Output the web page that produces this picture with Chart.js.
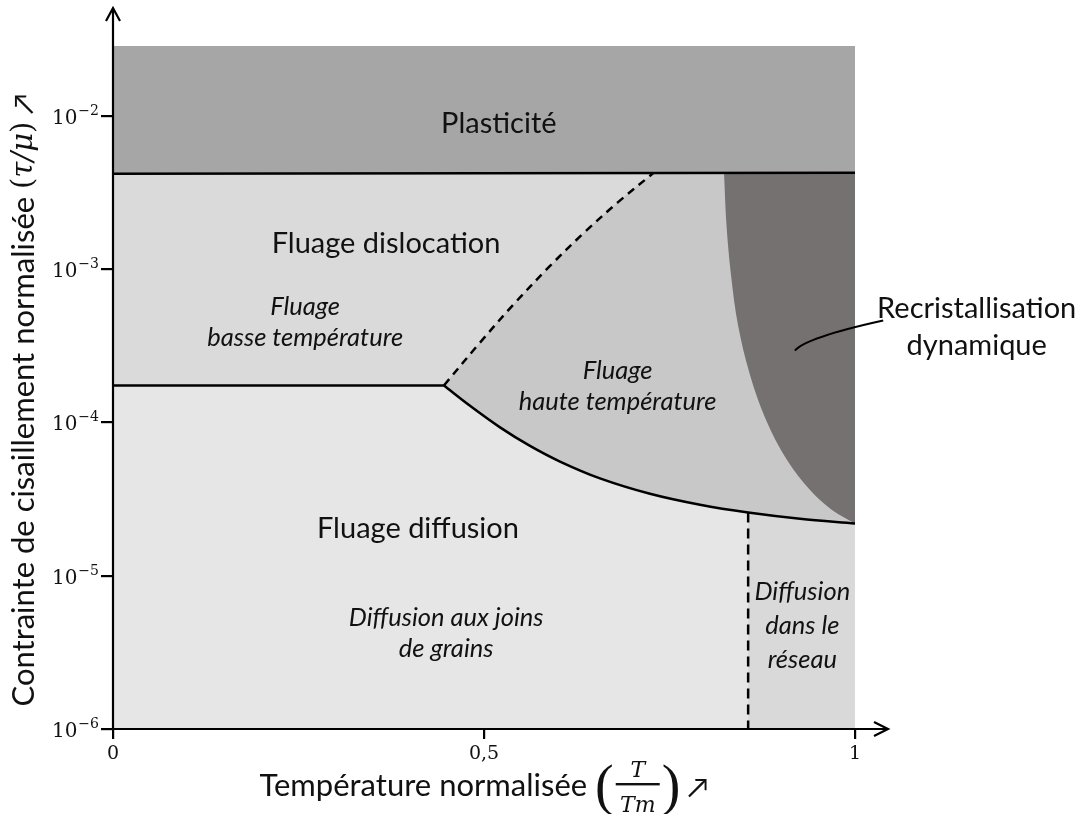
<!DOCTYPE html>
<html>
<head>
<meta charset="utf-8">
<script src="https://cdn.jsdelivr.net/npm/chart.js@4"></script>
<style>
  html, body { margin: 0; padding: 0; background: #fff; }
  #wrap { width: 1082px; height: 814px; }
</style>
</head>
<body>
<div id="wrap"><canvas id="map" width="1082" height="814"></canvas></div>
<script>
// ─── Axes ─────────────────────────────────────────────────────────────────────
const xTicks = [0, 0.5, 1];
const xTickLabels = ['0', '0,5', '1'];
const yTicks = [1e-6, 1e-5, 1e-4, 1e-3, 1e-2];
const yExponents = ['−6', '−5', '−4', '−3', '−2'];
const yMin = 1e-6;
const yMax = 2.85e-2;

// ─── Boundaries (T/Tm, τ/μ) ───────────────────────────────────────────────────
const plasticityX = [0, 1];
const plasticityY = [4.18e-3, 4.25e-3];

const lowTempX = [0, 0.446];
const lowTempY = [1.74e-4, 1.74e-4];

const dislocationX = [0.446, 0.4933, 0.5404, 0.5876, 0.6348, 0.6819, 0.7278];
const dislocationY = [1.74e-4, 3.26e-4, 5.92e-4, 1.032e-3, 1.726e-3, 2.765e-3, 4.21e-3];

const diffusionX = [0.446, 0.4811, 0.5216, 0.562, 0.6024, 0.6563, 0.7237, 0.7911, 0.856, 0.9259, 1];
const diffusionY = [1.74e-4, 1.283e-4, 9.28e-5, 7.02e-5, 5.55e-5, 4.31e-5, 3.42e-5, 2.9e-5, 2.58e-5, 2.35e-5, 2.19e-5];

const recrystX = [0.8235, 0.8268, 0.8329, 0.8423, 0.8585, 0.8801, 0.9084, 0.9394, 0.969, 1];
const recrystY = [4.22e-3, 1.94e-3, 9.15e-4, 4.32e-4, 2.04e-4, 1.037e-4, 5.68e-5, 3.62e-5, 2.68e-5, 2.19e-5];

const latticeX = 0.856;
const latticeY = [2.58e-5, 1e-6];

// ─── Region labels ────────────────────────────────────────────────────────────
const regionLabels = [
  { lines: ['Plasticité'], x: 0.52, y: 8.9e-3, italic: false },
  { lines: ['Fluage dislocation'], x: 0.368, y: 1.47e-3, italic: false },
  { lines: ['Fluage', 'basse température'], x: 0.259, y: 5.7e-4, italic: true },
  { lines: ['Fluage', 'haute température'], x: 0.68, y: 2.18e-4, italic: true },
  { lines: ['Fluage diffusion'], x: 0.411, y: 2.04e-5, italic: false },
  { lines: ['Diffusion aux joins', 'de grains'], x: 0.449, y: 5.28e-6, italic: true },
  { lines: ['Diffusion', 'dans le', 'réseau'], x: 0.929, y: 7.81e-6, italic: true, lead: 34 },
  { lines: ['Recristallisation', 'dynamique'], x: 1.164, y: 5.53e-4, italic: false, lead: 37 }
];
const leader = { from: [1.038, 4.62e-4], ctrl: [0.934, 3.58e-4], to: [0.919, 2.94e-4] };

// ─── Helpers ──────────────────────────────────────────────────────────────────
const pts = (xs, ys) => xs.map((x, i) => ({ x, y: ys[i] }));
const SMOOTH = 0.35;

function area(label, xs, ys, fill, color, order) {
  return {
    label, data: pts(xs, ys), fill, backgroundColor: color,
    borderWidth: 0, pointRadius: 0, tension: SMOOTH, order
  };
}

function edge(label, xs, ys, dash, curved, order) {
  return {
    label, data: pts(xs, ys), fill: false, borderColor: '#000', borderWidth: 2.5,
    borderDash: dash, pointRadius: 0, borderCapStyle: 'butt',
    tension: curved ? SMOOTH : 0, order
  };
}

const latticeCurveX = diffusionX.filter(x => x >= latticeX);
const latticeCurveY = diffusionY.filter((_, i) => diffusionX[i] >= latticeX);

const SANS = 'Lato, "Open Sans", sans-serif';
const SERIF = '"DejaVu Serif", serif';

// ─── Decorations: axes arrows, titles, labels ─────────────────────────────────
const decor = {
  id: 'decor',
  afterDraw(chart) {
    const { ctx, chartArea: a, scales: { x, y } } = chart;
    ctx.save();

    // region labels
    ctx.fillStyle = '#111';
    ctx.textAlign = 'center';
    ctx.textBaseline = 'middle';
    regionLabels.forEach(l => {
      ctx.font = l.italic ? 'italic 25.5px ' + SANS : '29px ' + SANS;
      const px = x.getPixelForValue(l.x);
      const py = y.getPixelForValue(l.y);
      const lead = l.lead || 31;
      l.lines.forEach((t, i) => ctx.fillText(t, px, py + i * lead));
    });

    // leader line
    ctx.strokeStyle = '#000';
    ctx.lineWidth = 2;
    ctx.beginPath();
    ctx.moveTo(x.getPixelForValue(leader.from[0]), y.getPixelForValue(leader.from[1]));
    ctx.quadraticCurveTo(x.getPixelForValue(leader.ctrl[0]), y.getPixelForValue(leader.ctrl[1]),
      x.getPixelForValue(leader.to[0]), y.getPixelForValue(leader.to[1]));
    ctx.stroke();

    // axes with arrow heads
    ctx.lineWidth = 2.2;
    const top = a.top - 38, right = a.right + 33;
    ctx.beginPath();
    ctx.moveTo(a.left, a.bottom); ctx.lineTo(a.left, top);
    ctx.moveTo(a.left - 7, top + 13); ctx.lineTo(a.left, top); ctx.lineTo(a.left + 7, top + 13);
    ctx.moveTo(a.left, a.bottom); ctx.lineTo(right, a.bottom);
    ctx.moveTo(right - 14, a.bottom - 7); ctx.lineTo(right, a.bottom); ctx.lineTo(right - 14, a.bottom + 7);
    ctx.stroke();

    // y tick labels 10^n
    ctx.textAlign = 'left';
    ctx.textBaseline = 'alphabetic';
    yTicks.forEach((v, i) => {
      const py = y.getPixelForValue(v);
      ctx.font = '14px ' + SERIF;
      const ew = ctx.measureText(yExponents[i]).width;
      ctx.font = '20px ' + SERIF;
      const bw = ctx.measureText('10').width;
      const x0 = a.left - 15 - ew - bw;
      ctx.fillText('10', x0, py + 8);
      ctx.font = '14px ' + SERIF;
      ctx.fillText(yExponents[i], x0 + bw + 1, py - 1);
    });

    // x title with fraction
    const cy = 786;
    ctx.textBaseline = 'middle';
    ctx.font = '31px ' + SANS;
    const t1 = 'Température normalisée ';
    const w1 = ctx.measureText(t1).width;
    ctx.font = '56px "Liberation Serif", serif';
    const wp = ctx.measureText('(').width;
    const wf = 44;
    ctx.font = '28px ' + SANS;
    const wa = ctx.measureText(' ↗').width;
    const total = w1 + wp * 2 + wf + 4 + wa;
    let cx = x.getPixelForValue(0.5) - total / 2;
    ctx.textAlign = 'left';
    ctx.font = '31px ' + SANS;
    ctx.fillText(t1, cx, cy);
    cx += w1;
    ctx.font = '56px "Liberation Serif", serif';
    ctx.fillText('(', cx, cy + 3);
    cx += wp + 2;
    ctx.textAlign = 'center';
    ctx.font = 'italic 22px ' + SERIF;
    ctx.fillText('T', cx + wf / 2, cy - 15);
    ctx.fillText('Tm', cx + wf / 2, cy + 20);
    ctx.fillRect(cx, cy - 3, wf, 2.4);
    cx += wf + 2;
    ctx.textAlign = 'left';
    ctx.font = '56px "Liberation Serif", serif';
    ctx.fillText(')', cx, cy + 3);
    cx += wp;
    ctx.font = '28px ' + SANS;
    ctx.fillText(' ↗', cx, cy + 2);

    // y title (rotated)
    ctx.translate(24, 400);
    ctx.rotate(-Math.PI / 2);
    ctx.font = '31px ' + SANS;
    const s1 = 'Contrainte de cisaillement normalisée ';
    const v1 = ctx.measureText(s1).width;
    ctx.font = '29px ' + SERIF;
    const vp = ctx.measureText('(').width;
    ctx.font = 'italic 29px ' + SERIF;
    const vm = ctx.measureText('τ/μ').width;
    ctx.font = '28px ' + SANS;
    const va = ctx.measureText(' ↗').width;
    let vx = -(v1 + vp * 2 + vm + va) / 2;
    ctx.textAlign = 'left';
    ctx.font = '31px ' + SANS;
    ctx.fillText(s1, vx, 0); vx += v1;
    ctx.font = '29px ' + SERIF;
    ctx.fillText('(', vx, 0); vx += vp;
    ctx.font = 'italic 29px ' + SERIF;
    ctx.fillText('τ/μ', vx, 0); vx += vm;
    ctx.font = '29px ' + SERIF;
    ctx.fillText(')', vx, 0); vx += vp;
    ctx.font = '28px ' + SANS;
    ctx.fillText(' ↗', vx, 0);

    ctx.restore();
  }
};

// ─── Chart ────────────────────────────────────────────────────────────────────
new Chart(document.getElementById('map'), {
  type: 'line',
  data: {
    datasets: [
      area('Fluage diffusion', plasticityX, plasticityY, 'start', '#e6e6e6', 20),
      area('Fluage haute température', diffusionX, diffusionY, 'end', '#c8c8c8', 19),
      area('Fluage basse température', lowTempX, lowTempY, 'end', '#dadada', 18),
      area('Fluage basse température (2)', dislocationX, dislocationY, 'end', '#dadada', 17),
      area('Recristallisation dynamique', recrystX, recrystY, 'end', '#767171', 16),
      area('Plasticité', plasticityX, plasticityY, 'end', '#a6a6a6', 15),
      area('Diffusion dans le réseau', latticeCurveX, latticeCurveY, 'start', '#d9d9d9', 14),
      edge('plasticity edge', plasticityX, plasticityY, [], false, 5),
      edge('low temp edge', lowTempX, lowTempY, [], false, 4),
      edge('diffusion edge', diffusionX, diffusionY, [], true, 3),
      edge('dislocation edge', dislocationX, dislocationY, [8, 6], true, 2),
      edge('lattice edge', [latticeX, latticeX], latticeY, [10, 6], false, 1)
    ]
  },
  options: {
    responsive: false,
    animation: false,
    devicePixelRatio: 1,
    layout: { padding: { top: 46, right: 227, left: 0, bottom: 0 } },
    plugins: { legend: { display: false }, tooltip: { enabled: false } },
    scales: {
      x: {
        type: 'linear', min: 0, max: 1,
        afterBuildTicks: s => { s.ticks = xTicks.map(v => ({ value: v })); },
        afterFit: s => { s.height = 85; },
        ticks: {
          callback: (v) => xTickLabels[xTicks.indexOf(v)],
          font: { family: '"DejaVu Serif", serif', size: 19 },
          color: '#111', padding: 4, maxRotation: 0, autoSkip: false
        },
        grid: { drawOnChartArea: false, drawTicks: true, tickLength: 10, color: '#000', lineWidth: 2.2 },
        border: { display: false }
      },
      y: {
        type: 'logarithmic', min: yMin, max: yMax,
        afterBuildTicks: s => { s.ticks = yTicks.map(v => ({ value: v })); },
        afterFit: s => { s.width = 113; },
        ticks: { callback: () => '', autoSkip: false },
        grid: { drawOnChartArea: false, drawTicks: true, tickLength: 12, color: '#000', lineWidth: 2.2 },
        border: { display: false }
      }
    }
  },
  plugins: [decor]
});
</script>
</body>
</html>
